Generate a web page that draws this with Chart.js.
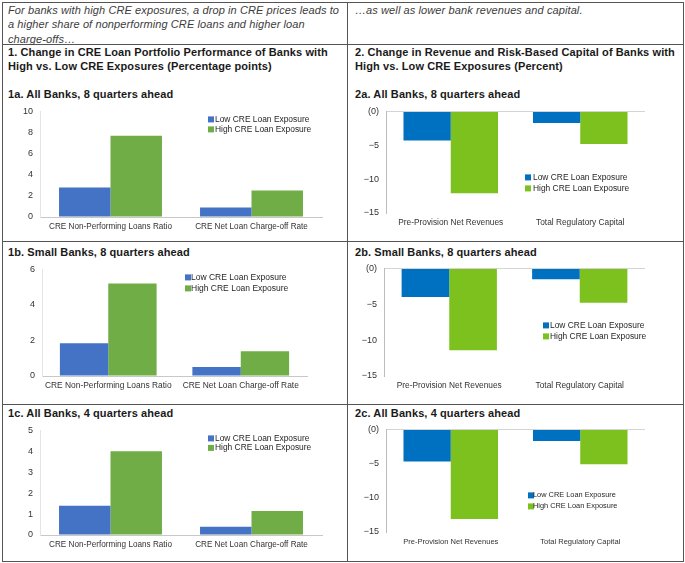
<!DOCTYPE html>
<html>
<head>
<meta charset="utf-8">
<script src="https://cdn.jsdelivr.net/npm/chart.js@4.4.1/dist/chart.umd.min.js"></script>
<style>
  body { margin: 0; background: #fff; font-family: 'Liberation Sans', Arial, sans-serif; }
  #page { position: relative; width: 685px; height: 563px; overflow: hidden; background: #fff; }
  .ln { position: absolute; background: #555; }
  .txt { position: absolute; white-space: nowrap; color: #1a1a1a; }
  .intro { font-style: italic; font-size: 11px; letter-spacing: 0.1px; line-height: 14.3px; color: #3c3c3c; }
  .head { font-weight: bold; font-size: 11px; letter-spacing: 0.1px; line-height: 14px; }
  canvas { position: absolute; }
</style>
</head>
<body>
<div id="page">
  <!-- table rules -->
  <div class="ln" style="left:2px; top:2px; width:682px; height:1px;"></div>
  <div class="ln" style="left:2px; top:44px; width:682px; height:1px;"></div>
  <div class="ln" style="left:2px; top:241px; width:682px; height:1px;"></div>
  <div class="ln" style="left:2px; top:404px; width:682px; height:1px;"></div>
  <div class="ln" style="left:2px; top:561px; width:682px; height:1px;"></div>
  <div class="ln" style="left:2px; top:2px; width:1px; height:560px;"></div>
  <div class="ln" style="left:347px; top:2px; width:1px; height:560px;"></div>
  <div class="ln" style="left:683px; top:2px; width:1px; height:560px;"></div>

  <div class="txt intro" style="left:8px; top:3px;">For banks with high CRE exposures, a drop in CRE prices leads to<br>a higher share of nonperforming CRE loans and higher loan<br>charge-offs…</div>
  <div class="txt intro" style="left:355px; top:3px;">…as well as lower bank revenues and capital.</div>

  <div class="txt head" style="left:8px; top:45px;">1. Change in CRE Loan Portfolio Performance of Banks with<br>High vs. Low CRE Exposures (Percentage points)</div>
  <div class="txt head" style="left:355px; top:45px;">2. Change in Revenue and Risk-Based Capital of Banks with<br>High vs. Low CRE Exposures (Percent)</div>

  <div class="txt head" style="left:8px; top:87px;">1a. All Banks, 8 quarters ahead</div>
  <div class="txt head" style="left:355px; top:87px;">2a. All Banks, 8 quarters ahead</div>
  <div class="txt head" style="left:8px; top:245px;">1b. Small Banks, 8 quarters ahead</div>
  <div class="txt head" style="left:355px; top:245px;">2b. Small Banks, 8 quarters ahead</div>
  <div class="txt head" style="left:8px; top:406px;">1c. All Banks, 4 quarters ahead</div>
  <div class="txt head" style="left:355px; top:406px;">2c. All Banks, 4 quarters ahead</div>
</div>

<script>
// categories and series
const loanCategories = ['CRE Non-Performing Loans Ratio', 'CRE Net Loan Charge-off Rate'];
const capitalCategories = ['Pre-Provision Net Revenues', 'Total Regulatory Capital'];
const seriesNames = ['Low CRE Loan Exposure', 'High CRE Loan Exposure'];

// panel 1: percentage points
const low1a = [2.8, 0.9];
const high1a = [7.7, 2.5];
const low1b = [1.85, 0.5];
const high1b = [5.2, 1.4];
const low1c = [1.4, 0.4];
const high1c = [4.0, 1.15];

// panel 2: percent
const low2a = [-4.3, -1.7];
const high2a = [-12.1, -4.8];
const low2b = [-4.0, -1.5];
const high2b = [-11.4, -4.8];
const low2c = [-4.7, -1.7];
const high2c = [-13.1, -5.1];

// y tick labels
const ticks1a = [0, 2, 4, 6, 8, 10];
const ticks1b = [0, 2, 4, 6];
const ticks1c = [0, 1, 2, 3, 4, 5];
const ticks2 = [-15, -10, -5, 0];

const AXIS_W = 40, AXIS_H = 22, PAD_T = 8, PAD_R = 6;

// pick a condensed face if the machine has one, else shrink regular Liberation Sans
function hasFont(name) {
  const c = document.createElement('canvas').getContext('2d');
  const s = 'CRE Non-Performing Loans Ratio';
  c.font = '20px monospace';
  const a = c.measureText(s).width;
  c.font = `20px "${name}", monospace`;
  return c.measureText(s).width !== a;
}
const narrow = hasFont('Liberation Sans Narrow');
const labelFamily = narrow ? '"Liberation Sans Narrow", "Liberation Sans", Arial' : '"Liberation Sans", Arial';
const shrink = narrow ? 1 : 0.86;

Chart.defaults.font.family = '"Liberation Sans", Arial, sans-serif';
Chart.defaults.color = '#404040';

// small boxed legend drawn inside the plot
const cornerLegend = {
  id: 'cornerLegend',
  afterDraw(chart, args, opts) {
    const { ctx, chartArea } = chart;
    ctx.save();
    ctx.font = `${opts.size * shrink}px ${labelFamily}`;
    ctx.textBaseline = 'middle';
    ctx.textAlign = 'left';
    chart.data.datasets.forEach((ds, i) => {
      const x = chartArea.left + opts.x;
      const y = chartArea.top + opts.y + i * opts.gap;
      ctx.fillStyle = ds.backgroundColor;
      ctx.fillRect(x, y - 3, 6, 6);
      ctx.fillStyle = '#262626';
      ctx.fillText(ds.label, x + opts.textGap, y);
    });
    ctx.restore();
  }
};

function buildChart(cfg) {
  const [x0, y0, x1, y1] = cfg.plot;
  const cv = document.createElement('canvas');
  cv.width = x1 - x0 + AXIS_W + PAD_R;
  cv.height = y1 - y0 + PAD_T + AXIS_H;
  cv.style.left = (x0 - AXIS_W) + 'px';
  cv.style.top = (y0 - PAD_T) + 'px';
  document.getElementById('page').appendChild(cv);

  const negative = cfg.ticks[0] < 0;

  return new Chart(cv, {
    type: 'bar',
    data: {
      labels: cfg.labels,
      datasets: [
        { label: seriesNames[0], data: cfg.low, backgroundColor: cfg.colors[0] },
        { label: seriesNames[1], data: cfg.high, backgroundColor: cfg.colors[1] }
      ]
    },
    options: {
      responsive: false,
      animation: false,
      devicePixelRatio: 1,
      layout: { padding: { top: PAD_T, right: PAD_R, left: 0, bottom: 0 } },
      datasets: { bar: { barPercentage: 1, categoryPercentage: 0.73, borderWidth: 0 } },
      plugins: {
        legend: { display: false },
        tooltip: { enabled: false },
        cornerLegend: cfg.legend
      },
      scales: {
        x: {
          ticks: {
            padding: 5,
            maxRotation: 0,
            autoSkip: false,
            color: '#333',
            font: { family: labelFamily, size: cfg.xSize * shrink }
          },
          grid: { display: false, drawTicks: false },
          border: { display: !negative, color: '#c8c8c8' },
          afterFit: s => { s.height = AXIS_H; }
        },
        y: {
          min: cfg.ticks[0],
          max: cfg.ticks[cfg.ticks.length - 1],
          ticks: {
            stepSize: cfg.ticks[1] - cfg.ticks[0],
            padding: 7,
            color: '#333',
            font: { size: 9 },
            callback: v => negative ? (v === 0 ? '(0)' : '\u2212' + Math.abs(v)) : v
          },
          grid: {
            drawTicks: false,
            color: c => (negative && c.tick && c.tick.value === 0) ? '#d4d4d4' : 'rgba(0,0,0,0)'
          },
          border: { display: true, color: negative ? '#bcbcbc' : '#e4e4e4' },
          afterFit: s => { s.width = AXIS_W; }
        }
      }
    },
    plugins: [cornerLegend]
  });
}

const leftColors = ['#4472C4', '#70AD47'];
const rightColors = ['#0070C0', '#7CC11E'];

buildChart({ plot: [40, 107, 322, 217], labels: loanCategories, low: low1a, high: high1a, ticks: ticks1a,
  colors: leftColors, xSize: 9.5, legend: { x: 168, y: 8, gap: 10, size: 9.8, textGap: 7 } });
buildChart({ plot: [386, 107, 645, 213], labels: capitalCategories, low: low2a, high: high2a, ticks: ticks2,
  colors: rightColors, xSize: 9.7, legend: { x: 139, y: 66, gap: 11, size: 9.8, textGap: 8 } });
buildChart({ plot: [42, 265, 307, 376], labels: loanCategories, low: low1b, high: high1b, ticks: ticks1b,
  colors: leftColors, xSize: 9.8, legend: { x: 143, y: 8, gap: 11, size: 9.9, textGap: 6 } });
buildChart({ plot: [384, 264, 645, 376], labels: capitalCategories, low: low2b, high: high2b, ticks: ticks2,
  colors: rightColors, xSize: 9.7, legend: { x: 159, y: 57, gap: 11, size: 9.8, textGap: 7 } });
buildChart({ plot: [40, 426, 322, 535], labels: loanCategories, low: low1c, high: high1c, ticks: ticks1c,
  colors: leftColors, xSize: 9.5, legend: { x: 168, y: 8, gap: 9.5, size: 9.8, textGap: 7 } });
buildChart({ plot: [386, 425, 645, 532], labels: capitalCategories, low: low2c, high: high2c, ticks: ticks2,
  colors: rightColors, xSize: 8.8, legend: { x: 142, y: 66, gap: 11, size: 8.6, textGap: 5 } });
</script>
</body>
</html>
